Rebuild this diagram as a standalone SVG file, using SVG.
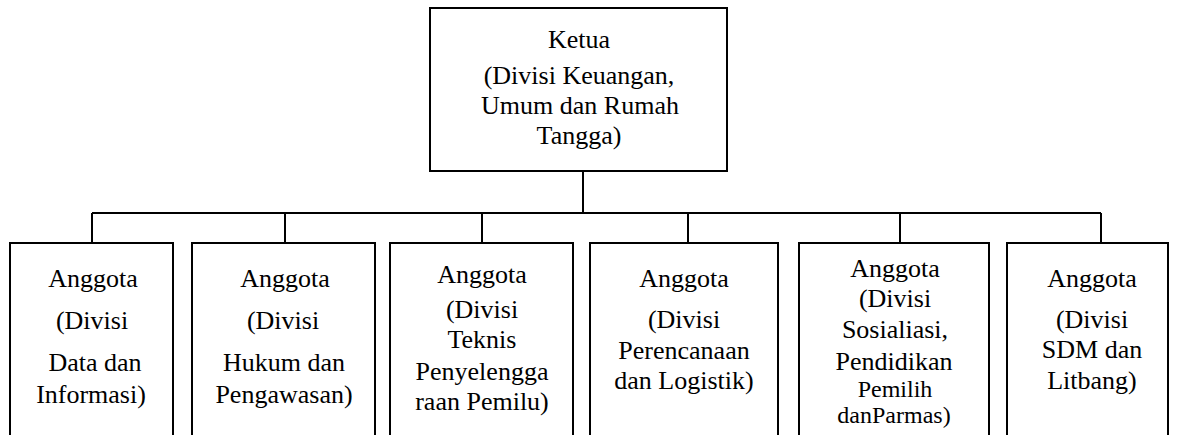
<svg xmlns="http://www.w3.org/2000/svg" width="1179" height="435" viewBox="0 0 1179 435">
<style>
.box{fill:#fff;stroke:#000;stroke-width:2}
.ln{fill:none;stroke:#000;stroke-width:2}
text{font-family:"Liberation Serif","Times New Roman",serif;font-size:26px;fill:#000;text-anchor:middle}
.sm{font-size:24px}
</style>
<rect width="1179" height="435" fill="#fff"/>
<g id="connectors">
<path class="ln" d="M583 171V213M92 213H1101M92 213V243M285 213V243M482 213V243M688 213V243M900 213V243M1101 213V243"/>
</g>
<g id="ketua">
<rect class="box" x="430" y="8" width="297" height="163"/>
<text x="579" y="48">Ketua</text>
<text x="579" y="84">(Divisi Keuangan,</text>
<text x="580" y="114">Umum dan Rumah</text>
<text x="579" y="144">Tangga)</text>
</g>
<g id="a1">
<rect class="box" x="10" y="243" width="163" height="200"/>
<text x="93" y="287">Anggota</text>
<text x="92" y="329">(Divisi</text>
<text x="95" y="371">Data dan</text>
<text x="91" y="403">Informasi)</text>
</g>
<g id="a2">
<rect class="box" x="192" y="243" width="183" height="200"/>
<text x="285" y="287">Anggota</text>
<text x="283" y="329">(Divisi</text>
<text x="284" y="371">Hukum dan</text>
<text x="284" y="403">Pengawasan)</text>
</g>
<g id="a3">
<rect class="box" x="390" y="243" width="183" height="200"/>
<text x="482" y="283">Anggota</text>
<text x="482" y="318">(Divisi</text>
<text x="482" y="348">Teknis</text>
<text x="482" y="380">Penyelengga</text>
<text x="482" y="410">raan Pemilu)</text>
</g>
<g id="a4">
<rect class="box" x="590" y="243" width="188" height="200"/>
<text x="684" y="287">Anggota</text>
<text x="684" y="328">(Divisi</text>
<text x="684" y="359">Perencanaan</text>
<text x="684" y="389">dan Logistik)</text>
</g>
<g id="a5">
<rect class="box" x="799" y="243" width="190" height="200"/>
<text x="895" y="277">Anggota</text>
<text x="895" y="307">(Divisi</text>
<text x="895" y="338">Sosialiasi,</text>
<text x="894" y="370">Pendidikan</text>
<text class="sm" x="895" y="397">Pemilih</text>
<text class="sm" x="894" y="423">danParmas)</text>
</g>
<g id="a6">
<rect class="box" x="1007" y="243" width="161" height="200"/>
<text x="1092" y="287">Anggota</text>
<text x="1092" y="328">(Divisi</text>
<text x="1092" y="358">SDM dan</text>
<text x="1092" y="389">Litbang)</text>
</g>
</svg>
